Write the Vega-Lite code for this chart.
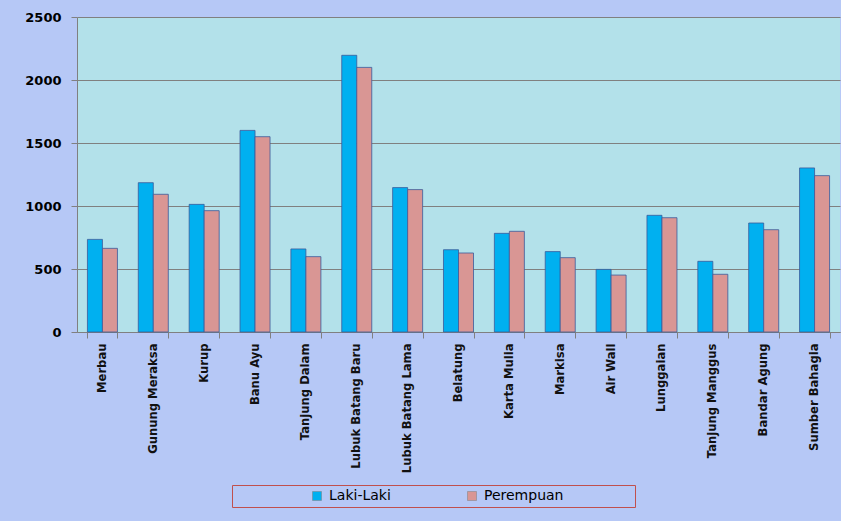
{
  "$schema": "https://vega.github.io/schema/vega-lite/v6.json",
  "width": 763,
  "height": 315,
  "autosize": {"type": "none"},
  "padding": {"left": 77, "top": 17, "right": 1, "bottom": 189},
  "background": "#b6c8f6",
  "config": {
    "font": "DejaVu Sans",
    "view": {"fill": "#b3e1ea", "stroke": null}
  },
  "data": {
    "values": [
      {"Desa": "Merbau", "Jenis": "Laki-Laki", "Jumlah": 735},
      {"Desa": "Merbau", "Jenis": "Perempuan", "Jumlah": 664},
      {"Desa": "Gunung Meraksa", "Jenis": "Laki-Laki", "Jumlah": 1185},
      {"Desa": "Gunung Meraksa", "Jenis": "Perempuan", "Jumlah": 1093},
      {"Desa": "Kurup", "Jenis": "Laki-Laki", "Jumlah": 1013},
      {"Desa": "Kurup", "Jenis": "Perempuan", "Jumlah": 963},
      {"Desa": "Banu Ayu", "Jenis": "Laki-Laki", "Jumlah": 1600},
      {"Desa": "Banu Ayu", "Jenis": "Perempuan", "Jumlah": 1550},
      {"Desa": "Tanjung Dalam", "Jenis": "Laki-Laki", "Jumlah": 659},
      {"Desa": "Tanjung Dalam", "Jenis": "Perempuan", "Jumlah": 598},
      {"Desa": "Lubuk Batang Baru", "Jenis": "Laki-Laki", "Jumlah": 2196},
      {"Desa": "Lubuk Batang Baru", "Jenis": "Perempuan", "Jumlah": 2100},
      {"Desa": "Lubuk Batang Lama", "Jenis": "Laki-Laki", "Jumlah": 1146},
      {"Desa": "Lubuk Batang Lama", "Jenis": "Perempuan", "Jumlah": 1130},
      {"Desa": "Belatung", "Jenis": "Laki-Laki", "Jumlah": 653},
      {"Desa": "Belatung", "Jenis": "Perempuan", "Jumlah": 627},
      {"Desa": "Karta Mulia", "Jenis": "Laki-Laki", "Jumlah": 783},
      {"Desa": "Karta Mulia", "Jenis": "Perempuan", "Jumlah": 799},
      {"Desa": "Markisa", "Jenis": "Laki-Laki", "Jumlah": 638},
      {"Desa": "Markisa", "Jenis": "Perempuan", "Jumlah": 590},
      {"Desa": "Air Wall", "Jenis": "Laki-Laki", "Jumlah": 497},
      {"Desa": "Air Wall", "Jenis": "Perempuan", "Jumlah": 452},
      {"Desa": "Lunggaian", "Jenis": "Laki-Laki", "Jumlah": 926},
      {"Desa": "Lunggaian", "Jenis": "Perempuan", "Jumlah": 907},
      {"Desa": "Tanjung Manggus", "Jenis": "Laki-Laki", "Jumlah": 561},
      {"Desa": "Tanjung Manggus", "Jenis": "Perempuan", "Jumlah": 458},
      {"Desa": "Bandar Agung", "Jenis": "Laki-Laki", "Jumlah": 865},
      {"Desa": "Bandar Agung", "Jenis": "Perempuan", "Jumlah": 812},
      {"Desa": "Sumber Bahagia", "Jenis": "Laki-Laki", "Jumlah": 1302},
      {"Desa": "Sumber Bahagia", "Jenis": "Perempuan", "Jumlah": 1241}
    ]
  },
  "mark": {"type": "bar", "stroke": "#3b5a9a", "strokeWidth": 0.8},
  "encoding": {
    "x": {
      "field": "Desa",
      "type": "nominal",
      "sort": null,
      "scale": {"paddingInner": 0.41, "paddingOuter": 0.205},
      "axis": {
        "title": null,
        "labelAngle": -90,
        "labelAlign": "right",
        "labelBaseline": "middle",
        "labelFontWeight": "bold",
        "labelFontSize": 11.6,
        "labelColor": "#111111",
        "labelPadding": 5,
        "tickBand": "extent",
        "tickSize": 6,
        "tickColor": "#808080",
        "domainColor": "#808080",
        "labelLimit": 0
      }
    },
    "xOffset": {"field": "Jenis", "type": "nominal", "sort": ["Laki-Laki", "Perempuan"]},
    "y": {
      "field": "Jumlah",
      "type": "quantitative",
      "scale": {"domain": [0, 2500]},
      "axis": {
        "title": null,
        "values": [0, 500, 1000, 1500, 2000, 2500],
        "format": "d",
        "labelFontWeight": "bold",
        "labelFontSize": 13,
        "labelColor": "#000000",
        "labelPadding": 10,
        "tickSize": 6,
        "tickColor": "#808080",
        "domainColor": "#808080",
        "gridColor": "#808080",
        "gridOpacity": 1
      }
    },
    "color": {
      "field": "Jenis",
      "type": "nominal",
      "scale": {"domain": ["Laki-Laki", "Perempuan"], "range": ["#00b0f0", "#d99694"]},
      "legend": {
        "title": "\u00a0",
        "titleOrient": "right",
        "titlePadding": 68,
        "titleFontSize": 14,
        "orient": "none",
        "legendX": 155,
        "legendY": 468,
        "direction": "horizontal",
        "columns": 2,
        "columnPadding": 0,
        "symbolType": "square",
        "symbolSize": 81,
        "symbolStrokeColor": "#7f7f7f",
        "symbolStrokeWidth": 0.5,
        "symbolOffset": 74,
        "labelFontSize": 14,
        "labelColor": "#000000",
        "labelOffset": 5,
        "padding": 4,
        "strokeColor": "#c0504d"
      }
    }
  }
}
